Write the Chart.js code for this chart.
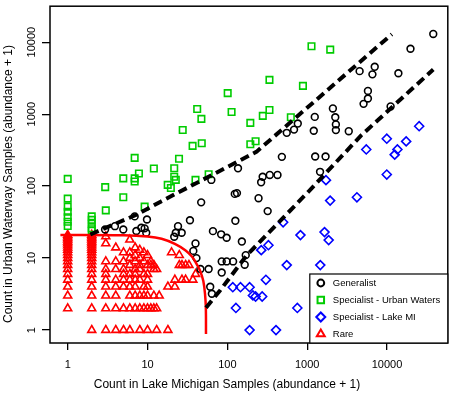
<!DOCTYPE html>
<html>
<head>
<meta charset="utf-8">
<script src="https://cdn.jsdelivr.net/npm/chart.js@4.4.1/dist/chart.umd.min.js"></script>
<style>
    html, body { margin: 0; padding: 0; background: #fff; }
    #wrap { width: 454px; height: 395px; }
</style>
</head>
<body>
<div id="wrap"><canvas id="myChart"></canvas></div>
<script>
// tick labels
const xTicks = [1, 10, 100, 1000, 10000];
const yTicks = [1, 10, 100, 1000, 10000];

// [count in Lake Michigan, count in urban waterway]
const generalist = [
    [2.94, 25], [3.9, 27.8], [4.97, 25], [6.9, 38], [7.25, 23.8], [8.36, 26.4], [9.2, 25.9], [9.64, 22.5], [9.84, 34.4],
    [21.6, 19.8], [22.6, 22.5], [26.8, 22.5], [24.1, 27.8], [34, 33.6], [39.9, 16], [37.5, 12.6], [41, 10], [46, 7.06],
    [58.3, 7.06], [61, 4], [64, 3.2], [47, 59.5], [63, 122], [66, 23.7], [83.6, 21.4], [98, 19.2], [85, 9], [98, 9],
    [118, 9], [85, 6.3], [152, 17], [170, 11], [165, 8.1], [126, 33], [320, 45], [124, 78], [132, 80], [246, 68],
    [136, 177], [265, 113], [277, 135], [340, 143], [425, 143], [482, 255], [555, 550], [685, 610], [763, 740],
    [1210, 588], [1245, 916], [1260, 258], [1700, 258], [1450, 158], [2100, 1200], [2250, 906], [2290, 720], [2290, 600],
    [3320, 580], [5090, 1390], [5770, 1650], [5770, 2100], [11100, 1280], [4540, 3960], [6570, 3570], [7020, 4550],
    [13900, 3700], [19700, 8100], [38000, 13000],
];

const urbanWaters = [
    [1, 126], [1, 67], [1, 52], [1, 44], [1, 37], [1, 32], [1, 28],
    [2, 38], [2, 34], [2, 30], [2, 26], [2, 24],
    [2.95, 97], [3, 46], [4.97, 128], [4.97, 70], [6.9, 247], [6.9, 128], [6.9, 116], [7.8, 150], [9.2, 52], [12, 176],
    [17.9, 104], [19.6, 94], [21.6, 177], [21.6, 135], [22.6, 122], [24.8, 240], [39.9, 122], [58.3, 146],
    [27.6, 601], [36.7, 362], [47.8, 394], [47.3, 859], [41.9, 1180],
    [101, 1958], [113, 1072], [194, 757], [194, 382], [226, 420], [278, 945], [337, 1143], [337, 2990], [624, 906],
    [885, 2474], [1133, 8790], [1945, 7890],
];

const lakeMI = [
    [25300, 680], [9940, 456], [17400, 418], [13500, 323], [12500, 274], [5500, 323], [9940, 145], [1720, 121],
    [1940, 63], [4200, 70], [500, 31.5], [824, 20.9], [1650, 23], [1860, 17.8], [327, 15.1], [266, 12.9], [555, 8],
    [1460, 8], [304, 5], [117, 3.94], [146, 3.94], [190, 3.94], [209, 3.03], [226, 2.93], [273, 2.93], [128, 2.03],
    [753, 2.03], [190, 1], [407, 1],
];

// rare: one x count per column, with the y counts seen in that column
const rareX = [1, 2, 3, 4, 5, 6, 7, 8, 9, 10, 11, 12, 13, 14, 18, 20, 22, 25, 27, 30, 33, 37, 40];
const rareY = [
    [2, 3, 4, 5, 6, 7, 8, 9, 10, 11, 12, 13, 14, 15, 16, 17, 18, 19, 20, 21],
    [1, 2, 3, 4, 5, 6, 7, 8, 9, 10, 11, 12, 13, 14, 15, 16, 17, 18, 19, 20, 21],
    [1, 2, 3, 4, 5, 6, 7, 9, 16, 20],
    [1, 2, 3, 4, 5, 7, 9, 14],
    [1, 2, 4, 5, 6, 7, 9, 12],
    [1, 2, 3, 4, 5, 6, 8, 10, 12, 18],
    [2, 3, 4, 5, 6, 7, 9, 11, 14],
    [1, 2, 3, 5, 7, 8, 10, 13],
    [2, 3, 4, 6, 9, 12],
    [1, 2, 3, 4, 5, 6, 8, 11],
    [2, 8, 9],
    [2, 3, 7, 8],
    [1, 2, 7],
    [3],
    [1, 4],
    [12],
    [4, 5],
    [8, 11],
    [5, 8],
    [5, 8],
    [8],
    [5],
    [6],
];

// boundary lines
const upperBound = [[1.92, 21.3], [7.25, 40], [14.8, 61.4], [231, 299], [11500, 12900]];
const lowerBound = [[54, 2.05], [81, 3.55], [172, 10.7], [1040, 84], [4750, 507], [38000, 4170]];
const rareBound = [
    [0.81, 21], [5, 20.8], [10, 20], [15, 18.6], [22, 15.8], [30, 12.8], [36, 10.5], [42, 8],
    [46, 6.5], [50, 4.8], [52.5, 3.2], [53.8, 2], [54, 0.88],
];

const FONT = "'Liberation Sans', Arial, sans-serif";
const toXY = (arr) => arr.map((p) => ({ x: p[0], y: p[1] }));
const rarePoints = [];
rareX.forEach((x, i) => {
    rareY[i].forEach((y) => rarePoints.push({ x: x, y: y }));
});

function pointSet(label, data, style, color, radius) {
    return {
        label: label,
        data: data,
        pointStyle: style,
        pointRadius: radius,
        pointHoverRadius: radius,
        borderColor: color,
        backgroundColor: "rgba(0,0,0,0)",
        pointBorderWidth: 1.6,
        showLine: false,
    };
}

function lineSet(data, color, width, dash) {
    return {
        data: data,
        showLine: true,
        borderColor: color,
        borderWidth: width,
        borderDash: dash,
        pointRadius: 0,
        fill: false,
        legendHide: true,
    };
}

// frame, legend and axis titles
const framePlugin = {
    id: "framePlugin",
    afterDraw(chart) {
        const c = chart.ctx;
        const a = chart.chartArea;
        c.save();
        c.strokeStyle = "#000";
        c.lineWidth = 1.5;
        c.strokeRect(a.left, a.top, a.right - a.left, a.bottom - a.top);

        // legend box
        const lx = a.right - 138;
        const ly = a.bottom - 69;
        c.fillStyle = "#fff";
        c.fillRect(lx, ly, a.right - lx, a.bottom - ly);
        c.lineWidth = 1.2;
        c.strokeRect(lx, ly, a.right - lx, a.bottom - ly);

        const items = chart.data.datasets.filter((d) => !d.legendHide);
        items.forEach((d, i) => {
            const y = ly + 9 + i * 17;
            c.strokeStyle = d.borderColor;
            c.fillStyle = "rgba(0,0,0,0)";
            c.lineWidth = 2;
            Chart.helpers.drawPoint(c, { pointStyle: d.pointStyle, radius: d.pointRadius, rotation: 0, borderWidth: 2 }, lx + 11, y);
            c.fillStyle = "#000";
            c.font = "9.5px " + FONT;
            c.textAlign = "left";
            c.textBaseline = "middle";
            c.fillText(d.label, lx + 23, y);
        });

        // axis titles
        c.fillStyle = "#000";
        c.font = "12px " + FONT;
        c.textAlign = "center";
        c.textBaseline = "middle";
        c.fillText("Count in Lake Michigan Samples (abundance + 1)", 227, 385);
        c.translate(9, 184);
        c.rotate(-Math.PI / 2);
        c.fillText("Count in Urban Waterway Samples (abundance + 1)", 0, 0);
        c.restore();
    },
};

const ctx = document.getElementById("myChart").getContext("2d");
const myChart = new Chart(ctx, {
    type: "scatter",
    data: {
        datasets: [
            lineSet(toXY(upperBound), "#000", 4, [9, 5]),
            lineSet(toXY(lowerBound), "#000", 4, [9, 5]),
            Object.assign(lineSet(toXY(rareBound), "#ff0000", 2.5, []), { tension: 0.35 }),
            pointSet("Generalist", toXY(generalist), "circle", "#000", 3.4),
            pointSet("Specialist - Urban Waters", toXY(urbanWaters), "rect", "#00cc00", 4.6),
            pointSet("Specialist - Lake MI", toXY(lakeMI), "rectRot", "#0000ff", 4.5),
            pointSet("Rare", rarePoints, "triangle", "#ff0000", 4.6),
        ],
    },
    options: {
        responsive: true,
        maintainAspectRatio: false,
        animation: false,
        layout: { padding: { top: 3, right: 3, left: 0, bottom: 0 } },
        plugins: {
            legend: { display: false },
            tooltip: { enabled: false },
        },
        scales: {
            x: {
                type: "logarithmic",
                min: 0.647,
                max: 57800,
                afterBuildTicks: (s) => { s.ticks = xTicks.map((v) => ({ value: v })); },
                afterFit: (s) => { s.height = 52; },
                grid: { drawOnChartArea: false, tickLength: 7, color: "#000", lineWidth: 1.3 },
                border: { display: false },
                ticks: {
                    autoSkip: false,
                    maxRotation: 0,
                    color: "#000",
                    padding: 8,
                    font: { family: FONT, size: 11 },
                    callback: (v) => String(v),
                },
            },
            y: {
                type: "logarithmic",
                min: 0.662,
                max: 31600,
                afterBuildTicks: (s) => { s.ticks = yTicks.map((v) => ({ value: v })); },
                afterFit: (s) => { s.width = 50; },
                grid: { drawOnChartArea: false, tickLength: 8, color: "#000", lineWidth: 1.3 },
                border: { display: false },
                ticks: {
                    autoSkip: false,
                    minRotation: 90,
                    maxRotation: 90,
                    crossAlign: "center",
                    padding: -5,
                    color: "#000",
                    font: { family: FONT, size: 11 },
                    callback: (v) => String(v),
                },
            },
        },
    },
    plugins: [framePlugin],
});
</script>
</body>
</html>
